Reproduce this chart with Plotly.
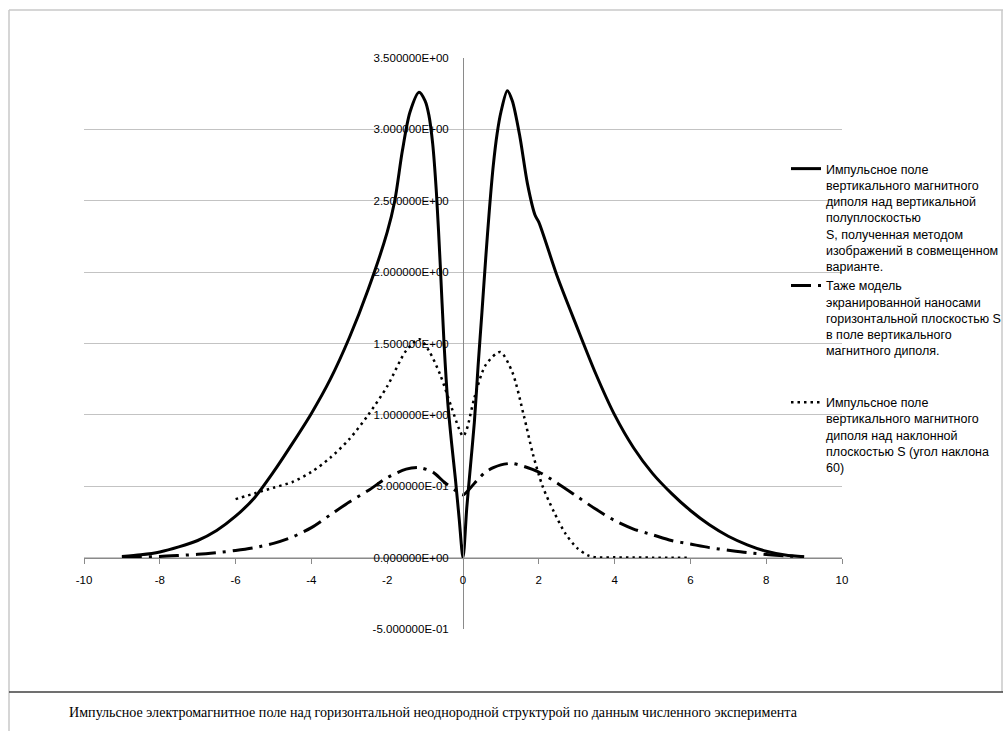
import plotly.graph_objects as go

# ---------------- data ----------------
x_solid = [-9, -8.5, -8, -7.5, -7, -6.5, -6, -5.5, -5, -4.5, -4, -3.5, -3, -2.5, -2,
           -1.8, -1.6, -1.4, -1.16, -1.0, -0.9, -0.8, -0.7, -0.6, -0.5, -0.4, -0.3, -0.2, -0.1, 0,
           0.1, 0.2, 0.3, 0.4, 0.5, 0.6, 0.7, 0.8, 0.9, 1.0, 1.17, 1.3, 1.5, 1.7, 1.9, 2.0,
           2.5, 3, 3.5, 4, 4.5, 5, 5.5, 6, 6.5, 7, 7.5, 8, 8.5, 9]
y_solid = [0.008, 0.02, 0.04, 0.075, 0.12, 0.19, 0.29, 0.42, 0.6, 0.8, 1.01, 1.25, 1.54, 1.88, 2.28,
           2.5, 2.85, 3.12, 3.26, 3.2, 3.1, 2.9, 2.55, 2.05, 1.5, 1.08, 0.8, 0.55, 0.27, 0.0,
           0.35, 0.65, 0.95, 1.35, 1.72, 2.1, 2.45, 2.75, 2.97, 3.12, 3.27, 3.2, 2.95, 2.62, 2.4, 2.35,
           1.96, 1.62, 1.29, 1.0, 0.77, 0.59, 0.45, 0.33, 0.23, 0.15, 0.09, 0.045, 0.018, 0.006]

x_dashdot = [-9, -8.5, -8, -7.5, -7, -6.5, -6, -5.5, -5, -4.5, -4, -3.5, -3, -2.5, -2, -1.5, -1.15,
             -0.8, -0.5, -0.2, 0, 0.2, 0.4, 0.6, 0.8, 1.0, 1.3, 1.6, 2.0, 2.5, 3, 3.5, 4, 4.5, 5,
             5.5, 6, 6.5, 7, 7.5, 8, 8.5, 9]
y_dashdot = [0.003, 0.005, 0.008, 0.015, 0.023, 0.035, 0.05, 0.07, 0.1, 0.145, 0.21, 0.3, 0.39, 0.47,
             0.56, 0.62, 0.63, 0.6, 0.53, 0.47, 0.44, 0.49, 0.55, 0.6, 0.63, 0.65, 0.66, 0.64, 0.6,
             0.52, 0.43, 0.34, 0.26, 0.2, 0.16, 0.12, 0.095, 0.07, 0.052, 0.035, 0.022, 0.012, 0.005]

x_dotted = [-6, -5.5, -5, -4.5, -4, -3.5, -3, -2.5, -2, -1.5, -1.15, -0.9, -0.6, -0.3, -0.1, 0,
            0.1, 0.3, 0.6, 0.98, 1.3, 1.6, 1.85, 2.1, 2.4, 2.7, 3.0, 3.3, 3.5, 4, 4.5, 5, 5.5, 6]
y_dotted = [0.41, 0.45, 0.49, 0.53, 0.6, 0.7, 0.83, 1.0, 1.2, 1.45, 1.53, 1.45, 1.28, 1.05, 0.9, 0.85,
            0.9, 1.12, 1.35, 1.44, 1.3, 1.0, 0.72, 0.5, 0.32, 0.17, 0.07, 0.015, 0.003, 0.002, 0.001, 0.0, 0.0, 0.0]

name_solid = ("Импульсное поле<br>вертикального магнитного<br>диполя над вертикальной<br>"
              "полуплоскостью<br>S, полученная методом<br>изображений в совмещенном<br>варианте.")
name_dashdot = ("Таже модель<br>экранированной наносами<br>горизонтальной плоскостью S<br>"
                "в поле вертикального<br>магнитного диполя.<br> <br> ")
name_dotted = ("Импульсное поле<br>вертикального магнитного<br>диполя над наклонной<br>"
               "плоскостью S (угол наклона<br>60)")

x_ticks = [-10, -8, -6, -4, -2, 0, 2, 4, 6, 8, 10]
y_ticks = [-0.5, 0, 0.5, 1.0, 1.5, 2.0, 2.5, 3.0, 3.5]
y_ticktext = [f"{v:.6E}" for v in y_ticks]

caption = ("Импульсное электромагнитное поле над горизонтальной неоднородной структурой "
           "по данным численного эксперимента")

# ---------------- layout geometry ----------------
W, H = 1003, 731
PL, PR, PT, PB = 84, 842, 58, 629  # plot area in pixels


def px_x(p):
    return (p - PL) / (PR - PL)


def px_y(p):
    return (PB - p) / (PB - PT)


fig = go.Figure()
fig.add_trace(go.Scatter(x=x_solid, y=y_solid, mode="lines", name=name_solid,
                         line=dict(color="black", width=3, shape="spline", smoothing=0.8)))
fig.add_trace(go.Scatter(x=x_dashdot, y=y_dashdot, mode="lines", name=name_dashdot,
                         line=dict(color="black", width=3, dash="20px,7px,3px,7px",
                                   shape="spline", smoothing=0.8)))
fig.add_trace(go.Scatter(x=x_dotted, y=y_dotted, mode="lines", name=name_dotted,
                         line=dict(color="black", width=2.5, dash="2.5px,4px",
                                   shape="spline", smoothing=0.8)))

grid_c = "#c3c3c3"
axis_c = "#8a8a8a"
tick_font = dict(family="Liberation Sans, Arial, sans-serif", size=11.5, color="#000000")

fig.update_layout(
    width=W, height=H,
    margin=dict(l=PL, r=W - PR, t=PT, b=H - PB, pad=0, autoexpand=False),
    paper_bgcolor="white", plot_bgcolor="white",
    font=dict(family="Liberation Sans, Arial, sans-serif", size=12.5, color="black"),
    xaxis=dict(range=[-10, 10], tickvals=x_ticks, ticktext=[str(v) for v in x_ticks],
               showgrid=False, zeroline=False, showline=True, linecolor=axis_c, linewidth=1,
               ticks="outside", ticklen=5, tickcolor=axis_c, tickwidth=1,
               anchor="free", position=px_y(557.7), tickfont=tick_font, ticklabelstandoff=6),
    yaxis=dict(range=[-0.5, 3.5], tickvals=y_ticks, ticktext=y_ticktext,
               showgrid=True, gridcolor=grid_c, gridwidth=1, zeroline=False,
               showline=True, linecolor=axis_c, linewidth=1, ticks="",
               anchor="free", position=0.5, tickfont=tick_font, ticklabelstandoff=12),
    legend=dict(x=px_x(786), y=px_y(154), xanchor="left", yanchor="top",
                valign="top", tracegroupgap=0, itemwidth=30,
                font=dict(family="Liberation Sans, Arial, sans-serif", size=12.5, color="black"),
                bgcolor="rgba(0,0,0,0)"),
    showlegend=True,
)

# frame and caption separator
border_c = "#c8c8c8"
fig.add_shape(type="line", xref="paper", yref="paper", x0=px_x(9), x1=px_x(1003), y0=px_y(10), y1=px_y(10),
              line=dict(color=border_c, width=1.5))
fig.add_shape(type="line", xref="paper", yref="paper", x0=px_x(9), x1=px_x(9), y0=px_y(10), y1=px_y(731),
              line=dict(color=border_c, width=1.5))
fig.add_shape(type="line", xref="paper", yref="paper", x0=px_x(1002), x1=px_x(1002), y0=px_y(10), y1=px_y(692),
              line=dict(color=border_c, width=1.5))
fig.add_shape(type="line", xref="paper", yref="paper", x0=px_x(9), x1=px_x(1003), y0=px_y(692), y1=px_y(692),
              line=dict(color="#404040", width=1.5))

fig.add_annotation(text=caption, xref="paper", yref="paper", x=px_x(67), y=px_y(712),
                   xanchor="left", yanchor="middle", showarrow=False,
                   font=dict(family="Liberation Serif, Times New Roman, serif", size=14.1, color="black"))

fig.write_html("out.html", config={"responsive": False, "displayModeBar": False},
               post_script="document.body.style.margin='0';document.body.style.overflow='hidden';")
